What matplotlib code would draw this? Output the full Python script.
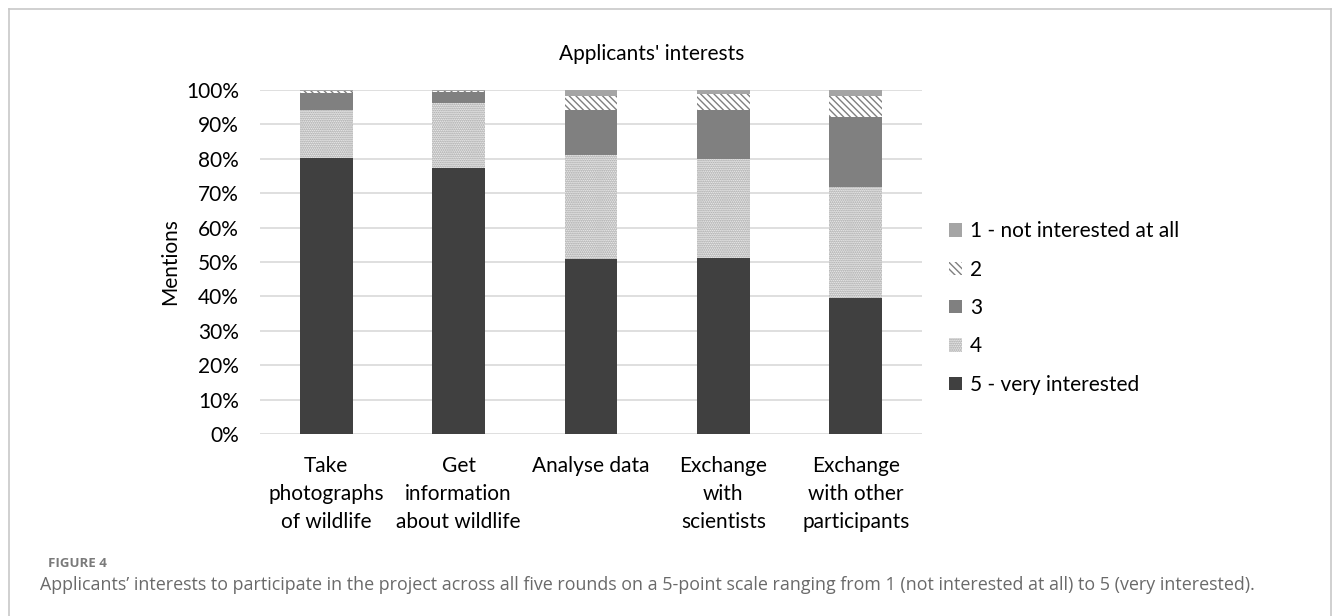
"""Stacked percentage bars of applicants' interests (Figure 4)."""

import matplotlib
matplotlib.use("Agg")
import matplotlib.pyplot as plt
from matplotlib.lines import Line2D
import numpy as np

# categories along the x axis
categories = [
    "Take\nphotographs\nof wildlife",
    "Get\ninformation\nabout wildlife",
    "Analyse data",
    "Exchange\nwith\nscientists",
    "Exchange\nwith other\nparticipants",
]

# shares in percent, per answer level
level5 = [80.3, 77.4, 50.9, 51.3, 39.6]
level4 = [14.0, 18.9, 30.2, 28.6, 32.3]
level3 = [4.8, 3.0, 13.0, 14.4, 20.3]
level2 = [0.6, 0.5, 4.2, 4.4, 6.2]
level1 = [0.3, 0.2, 1.7, 1.3, 1.6]

series_labels = ["5 - very interested", "4", "3", "2", "1 - not interested at all"]
yticks = np.arange(0, 101, 10)

plt.rcParams["font.family"] = ["Lato", "DejaVu Sans"]
plt.rcParams["hatch.linewidth"] = 1.0

fig = plt.figure(figsize=(13.33, 6.16), dpi=100)
ax = fig.add_axes([0.195, 0.2955, 0.4967, 0.5584])

x = np.arange(len(categories))
styles = [
    dict(color="#404040", edgecolor="#404040", hatch=None),
    dict(color="white", edgecolor="#8f8f8f", hatch="........"),
    dict(color="#808080", edgecolor="#808080", hatch=None),
    dict(color="white", edgecolor="#7f7f7f", hatch="\\\\\\\\\\"),
    dict(color="#a5a5a5", edgecolor="#a5a5a5", hatch=None),
]
bottom = np.zeros(len(categories))
handles = []
for vals, lab, st in zip([level5, level4, level3, level2, level1], series_labels, styles):
    bars = ax.bar(x, vals, width=0.4, bottom=bottom, label=lab,
                  color=st["color"], edgecolor=st["edgecolor"],
                  hatch=st["hatch"], linewidth=0, zorder=3)
    handles.append(bars)
    bottom += np.array(vals)

ax.set_xlim(-0.5, len(categories) - 0.5)
ax.set_ylim(0, 100)
ax.set_yticks(yticks)
ax.set_yticklabels([f"{v}%" for v in yticks], fontsize=15)
ax.set_xticks(x)
ax.set_xticklabels(categories, fontsize=15, linespacing=1.5)
ax.tick_params(axis="y", length=0, pad=15)
ax.tick_params(axis="x", length=0, pad=16)
ax.grid(axis="y", color="#d9d9d9", lw=1.2, zorder=0)
for s in ax.spines.values():
    s.set_visible(False)
ax.set_ylabel("Mentions", fontsize=15, labelpad=4)

fig.text(0.489, 0.913, "Applicants' interests", fontsize=15, ha="center", va="center")

fig.legend(handles[::-1], series_labels[::-1], loc="upper left",
           bbox_to_anchor=(0.698, 0.671), frameon=False, fontsize=15,
           handlelength=0.6, handleheight=0.6, handletextpad=0.4,
           labelspacing=0.88)

# caption
fig.text(0.036, 0.085, "FIGURE 4", fontsize=9.5, color="#7a7a7a",
         family="Open Sans", weight="bold", va="center")
fig.text(0.030, 0.050,
         "Applicants\u2019 interests to participate in the project across all five rounds "
         "on a 5-point scale ranging from 1 (not interested at all) to 5 (very interested).",
         fontsize=12.85, color="#6a6a6a", family="Open Sans", va="center")

# thin frame around the figure panel
frame_col = "#c8c8c8"
fig.add_artist(Line2D([0.007, 0.9985], [0.985, 0.985], color=frame_col, lw=1.2))
fig.add_artist(Line2D([0.007, 0.007], [0.0, 0.985], color=frame_col, lw=1.2))
fig.add_artist(Line2D([0.9985, 0.9985], [0.0, 0.985], color=frame_col, lw=1.2))

fig.savefig("out.png", dpi=100)
plt.close(fig)
